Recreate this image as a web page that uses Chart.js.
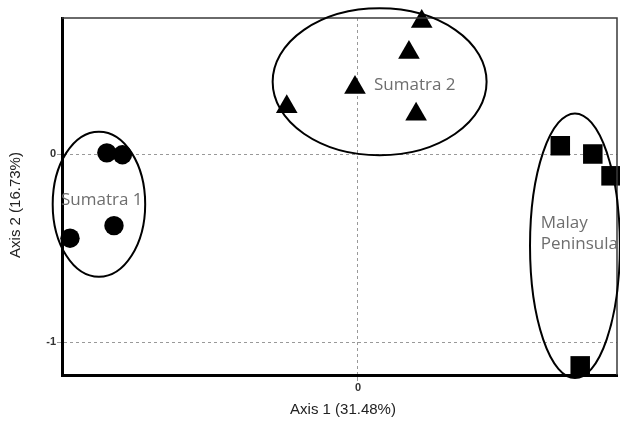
<!DOCTYPE html>
<html>
<head>
<meta charset="utf-8">
<script src="https://cdn.jsdelivr.net/npm/chart.js@4"></script>
<style>
html,body{margin:0;padding:0;background:#fff;}
canvas{display:block;}
</style>
</head>
<body>
<canvas id="c" width="620" height="424"></canvas>
<script>
// ---- data (PCoA coordinates) ----
const sumatra1X = [-1.336, -1.253, -1.298, -1.532];
const sumatra1Y = [0.006, -0.004, -0.381, -0.448];
const sumatra2X = [0.339, 0.271, -0.016, -0.379, 0.309];
const sumatra2Y = [0.705, 0.540, 0.354, 0.251, 0.212];
const malayX = [1.076, 1.249, 1.346, 1.182];
const malayY = [0.044, 0.000, -0.116, -1.127];

const xTicks = [0];
const yTicks = [-1, 0];
const xRange = [-1.5745, 1.3777];
const yRange = [-1.1755, 0.7234];

const xTitle = 'Axis 1 (31.48%)';
const yTitle = 'Axis 2 (16.73%)';

// cluster ellipses: centre x, centre y, radius x, radius y (data units)
const ellipseNames = ['Sumatra 1', 'Sumatra 2', 'Malay Peninsula'];
const ellipseCX = [-1.378, 0.115, 1.154];
const ellipseCY = [-0.267, 0.384, -0.488];
const ellipseRX = [0.246, 0.569, 0.239];
const ellipseRY = [0.386, 0.391, 0.704];

// cluster labels (left edge x, middle y in data units)
const labelText = ['Sumatra 1', 'Sumatra 2', 'Malay', 'Peninsula'];
const labelX = [-1.580, 0.085, 0.972, 0.972];
const labelY = [-0.245, 0.367, -0.369, -0.479];

const pts = (xs, ys) => xs.map((x, i) => ({x: x, y: ys[i]}));

const overlay = {
  id: 'overlay',
  afterDatasetsDraw(chart) {
    const ctx = chart.ctx, xs = chart.scales.x, ys = chart.scales.y, a = chart.chartArea;
    ctx.save();
    // thin top and right frame
    ctx.strokeStyle = '#3a3a3a';
    ctx.lineWidth = 1.5;
    ctx.beginPath();
    ctx.moveTo(a.left, a.top);
    ctx.lineTo(a.right, a.top);
    ctx.lineTo(a.right, a.bottom);
    ctx.stroke();
    // ellipses
    ctx.strokeStyle = '#000';
    ctx.lineWidth = 2;
    for (let i = 0; i < ellipseCX.length; i++) {
      const cx = xs.getPixelForValue(ellipseCX[i]);
      const cy = ys.getPixelForValue(ellipseCY[i]);
      const rx = xs.getPixelForValue(ellipseCX[i] + ellipseRX[i]) - cx;
      const ry = cy - ys.getPixelForValue(ellipseCY[i] + ellipseRY[i]);
      ctx.beginPath();
      ctx.ellipse(cx, cy, rx, ry, 0, 0, Math.PI * 2);
      ctx.stroke();
    }
    // cluster labels
    ctx.fillStyle = '#6e6e6e';
    ctx.font = '17px "Open Sans"';
    ctx.textAlign = 'left';
    ctx.textBaseline = 'middle';
    for (let i = 0; i < labelText.length; i++) {
      ctx.fillText(labelText[i], xs.getPixelForValue(labelX[i]), ys.getPixelForValue(labelY[i]));
    }
    // axis titles
    ctx.fillStyle = '#222';
    ctx.font = '15px "Liberation Sans", Arial, sans-serif';
    ctx.textAlign = 'center';
    ctx.textBaseline = 'middle';
    ctx.fillText(xTitle, 343, 410);
    ctx.translate(16, 205);
    ctx.rotate(-Math.PI / 2);
    ctx.fillText(yTitle, 0, 0);
    ctx.restore();
  }
};

new Chart(document.getElementById('c'), {
  type: 'scatter',
  data: {
    datasets: [
      {label: 'Sumatra 1', data: pts(sumatra1X, sumatra1Y), pointStyle: 'circle', pointRadius: 9.7,
       backgroundColor: '#000', borderColor: '#000', borderWidth: 0, clip: false},
      {label: 'Sumatra 2', data: pts(sumatra2X, sumatra2Y), pointStyle: 'triangle', pointRadius: 12.5,
       backgroundColor: '#000', borderColor: '#000', borderWidth: 0, clip: false},
      {label: 'Malay Peninsula', data: pts(malayX, malayY), pointStyle: 'rect', pointRadius: 13.8,
       backgroundColor: '#000', borderColor: '#000', borderWidth: 0, clip: false}
    ]
  },
  options: {
    responsive: false,
    animation: false,
    devicePixelRatio: 1,
    layout: {autoPadding: false, padding: {top: 18, right: 3, left: 0, bottom: 0}},
    plugins: {legend: {display: false}, tooltip: {enabled: false}},
    scales: {
      x: {
        type: 'linear', min: xRange[0], max: xRange[1],
        afterBuildTicks: s => { s.ticks = xTicks.map(v => ({value: v})); },
        afterFit: s => { s.height = 49; },
        ticks: {callback: v => String(v), font: {family: 'Liberation Sans', size: 11, weight: 'bold'}, color: '#333', padding: 0, maxRotation: 0},
        grid: {color: '#999', lineWidth: 1, tickLength: 6, tickColor: '#999'},
        border: {display: true, color: '#000', width: 3, dash: [3, 3]}
      },
      y: {
        type: 'linear', min: yRange[0], max: yRange[1],
        afterBuildTicks: s => { s.ticks = yTicks.map(v => ({value: v})); },
        afterFit: s => { s.width = 62; },
        ticks: {callback: v => String(v), font: {family: 'Liberation Sans', size: 11, weight: 'bold'}, color: '#333', padding: 1},
        grid: {color: '#999', lineWidth: 1, tickLength: 5, tickColor: '#999'},
        border: {display: true, color: '#000', width: 3, dash: [3, 3]}
      }
    }
  },
  plugins: [overlay]
});
</script>
</body>
</html>
